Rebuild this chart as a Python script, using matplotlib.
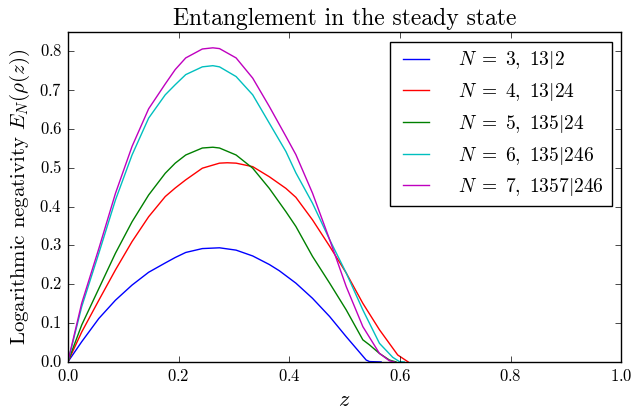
import matplotlib
matplotlib.use("Agg")
import matplotlib.pyplot as plt

plt.style.use('classic')
plt.rcParams['font.family'] = 'serif'
plt.rcParams['font.serif'] = ['cmr10']
plt.rcParams['mathtext.fontset'] = 'cm'
plt.rcParams['axes.formatter.use_mathtext'] = True
plt.rcParams['axes.unicode_minus'] = False

# values
z3 = [0.0, 0.025, 0.056, 0.086, 0.116, 0.146, 0.176, 0.194, 0.213, 0.243, 0.274, 0.304,
      0.334, 0.364, 0.382, 0.412, 0.442, 0.473, 0.503, 0.539, 0.545, 0.566]
e3 = [0.0, 0.052, 0.112, 0.159, 0.198, 0.231, 0.255, 0.269, 0.282, 0.292, 0.294, 0.288,
      0.273, 0.251, 0.235, 0.203, 0.164, 0.117, 0.065, 0.005, 0.001, 0.0]

z4 = [0.0, 0.025, 0.056, 0.086, 0.116, 0.146, 0.176, 0.194, 0.213, 0.243, 0.274, 0.288,
      0.304, 0.334, 0.364, 0.394, 0.412, 0.442, 0.473, 0.503, 0.533, 0.563, 0.596, 0.615]
e4 = [0.0, 0.077, 0.159, 0.237, 0.31, 0.374, 0.426, 0.448, 0.469, 0.499, 0.512, 0.513,
      0.512, 0.503, 0.477, 0.447, 0.424, 0.366, 0.298, 0.229, 0.151, 0.083, 0.018, 0.0]

z5 = [0.0, 0.025, 0.056, 0.086, 0.116, 0.146, 0.176, 0.194, 0.213, 0.243, 0.262, 0.274,
      0.304, 0.334, 0.364, 0.394, 0.412, 0.442, 0.473, 0.503, 0.533, 0.545, 0.563, 0.581, 0.593]
e5 = [0.0, 0.095, 0.189, 0.28, 0.361, 0.43, 0.486, 0.512, 0.533, 0.551, 0.553, 0.551,
      0.533, 0.499, 0.447, 0.387, 0.349, 0.272, 0.203, 0.134, 0.057, 0.044, 0.022, 0.005, 0.0]

z6 = [0.0, 0.025, 0.056, 0.086, 0.116, 0.146, 0.176, 0.194, 0.213, 0.243, 0.262, 0.274,
      0.304, 0.334, 0.364, 0.394, 0.412, 0.442, 0.473, 0.503, 0.533, 0.563, 0.587, 0.599, 0.608]
e6 = [0.0, 0.142, 0.28, 0.417, 0.533, 0.628, 0.688, 0.714, 0.74, 0.76, 0.763, 0.76,
      0.735, 0.688, 0.615, 0.542, 0.487, 0.409, 0.315, 0.229, 0.134, 0.048, 0.012, 0.001, 0.0]

z7 = [0.0, 0.025, 0.056, 0.086, 0.116, 0.146, 0.176, 0.194, 0.213, 0.243, 0.262, 0.274,
      0.304, 0.334, 0.364, 0.394, 0.412, 0.442, 0.473, 0.503, 0.533, 0.563, 0.581, 0.590]
e7 = [0.0, 0.151, 0.292, 0.434, 0.555, 0.652, 0.716, 0.753, 0.783, 0.806, 0.809, 0.807,
      0.783, 0.731, 0.658, 0.581, 0.534, 0.435, 0.315, 0.194, 0.091, 0.022, 0.003, 0.0]

labels = [r'$N\;=\;3,\ 13|2$', r'$N\;=\;4,\ 13|24$', r'$N\;=\;5,\ 135|24$',
          r'$N\;=\;6,\ 135|246$', r'$N\;=\;7,\ 1357|246$']
colors = ['b', 'r', 'g', 'c', 'm']

fig = plt.figure(figsize=(6.34, 4.09), dpi=100, facecolor='white')
ax = fig.add_axes([0.107, 0.115, 0.873, 0.807])

for zz, ee, lab, c in zip([z3, z4, z5, z6, z7], [e3, e4, e5, e6, e7], labels, colors):
    ax.plot(zz, ee, color=c, label=lab)

ax.set_xlim(0, 1)
ax.set_ylim(0, 0.85)
ax.set_yticks([0.0, 0.1, 0.2, 0.3, 0.4, 0.5, 0.6, 0.7, 0.8])
ax.set_xticks([0.0, 0.2, 0.4, 0.6, 0.8, 1.0])
ax.set_xlabel(r'$z$', fontsize=16)
ax.set_ylabel(r'Logarithmic negativity $E_N(\rho(z))$', fontsize=15)
ax.set_title('Entanglement in the steady state', fontsize=17)
ax.legend(loc='upper right', fontsize=14, handlelength=1.9, handletextpad=1.2,
          labelspacing=0.5)

fig.savefig('out.png', dpi=100, facecolor='white')
